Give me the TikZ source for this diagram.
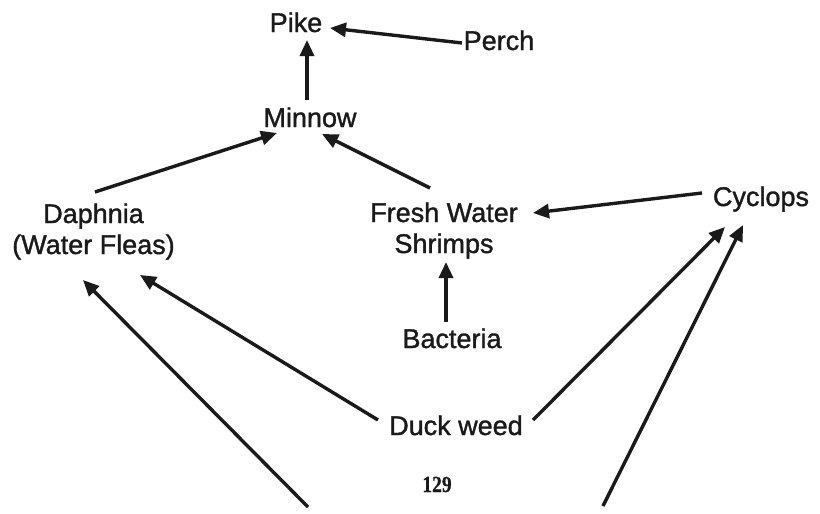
\documentclass[tikz,border=0pt]{standalone}
\usepackage{fontspec}
\setmainfont{Liberation Sans}[FakeBold=1.3]
\newfontfamily\pagenumfont{Liberation Serif}[FakeBold=0.8]
\usetikzlibrary{arrows.meta}
\definecolor{ink}{HTML}{1A1A1A}
\newcommand{\twolines}[2]{\begin{tabular}[t]{@{}c@{}}#1\\#2\end{tabular}}
\begin{document}
\begin{tikzpicture}[x=1pt,y=-1pt,
  lbl/.style={inner sep=0pt, anchor=base, font=\fontsize{27}{31}\selectfont, text=ink},
  arr/.style={-{Triangle[length=16pt,width=14pt]}, line width=3.4pt, draw=ink},
  pagenum/.style={inner sep=0pt, anchor=base, font=\pagenumfont\bfseries\fontsize{23}{26}\selectfont, text=ink, xscale=0.85}]
\useasboundingbox (0,0) rectangle (820,514);
\fill[white] (0,0) rectangle (820,514);

% nodes
\node[lbl] (pike) at (296,32) {Pike};
\node[lbl] (perch) at (499,50) {Perch};
\node[lbl] (minnow) at (310,127) {Minnow};
\node[lbl] (daphnia) at (93.5,223) {\twolines{Daphnia}{(Water Fleas)}};
\node[lbl] (shrimp) at (444,222) {\twolines{Fresh Water}{Shrimps}};
\node[lbl] (cyclops) at (761,206) {Cyclops};
\node[lbl] (bacteria) at (452,348) {Bacteria};
\node[lbl] (duck) at (456,435) {Duck weed};
\node[pagenum] (pnum) at (437,492) {129};

\coordinate (bl) at (308,507);
\coordinate (br) at (603,506);

% connectors
\draw[arr] ([shift={(-37,-7)}]perch.base) -- ([shift={(34,-4)}]pike.base);
\draw[arr] ([shift={(-3,-27)}]minnow.base) -- ([shift={(11,8)}]pike.base);
\draw[arr] ([shift={(1.5,-31)}]daphnia.base) -- ([shift={(-33,6)}]minnow.base);
\draw[arr] ([shift={(-14,-34)}]shrimp.base) -- ([shift={(12,7)}]minnow.base);
\draw[arr] ([shift={(-59,-13)}]cyclops.base) -- ([shift={(89,-9)}]shrimp.base);
\draw[arr] ([shift={(-6,-26)}]bacteria.base) -- ([shift={(2,40)}]shrimp.base);
\draw[arr] ([shift={(-78,-15)}]duck.base) -- ([shift={(46.5,52)}]daphnia.base);
\draw[arr] ([shift={(77,-15)}]duck.base) -- ([shift={(-36,21)}]cyclops.base);
\draw[arr] (bl) -- ([shift={(-10.5,57)}]daphnia.base);
\draw[arr] (br) -- ([shift={(-18,19)}]cyclops.base);
\end{tikzpicture}
\end{document}
